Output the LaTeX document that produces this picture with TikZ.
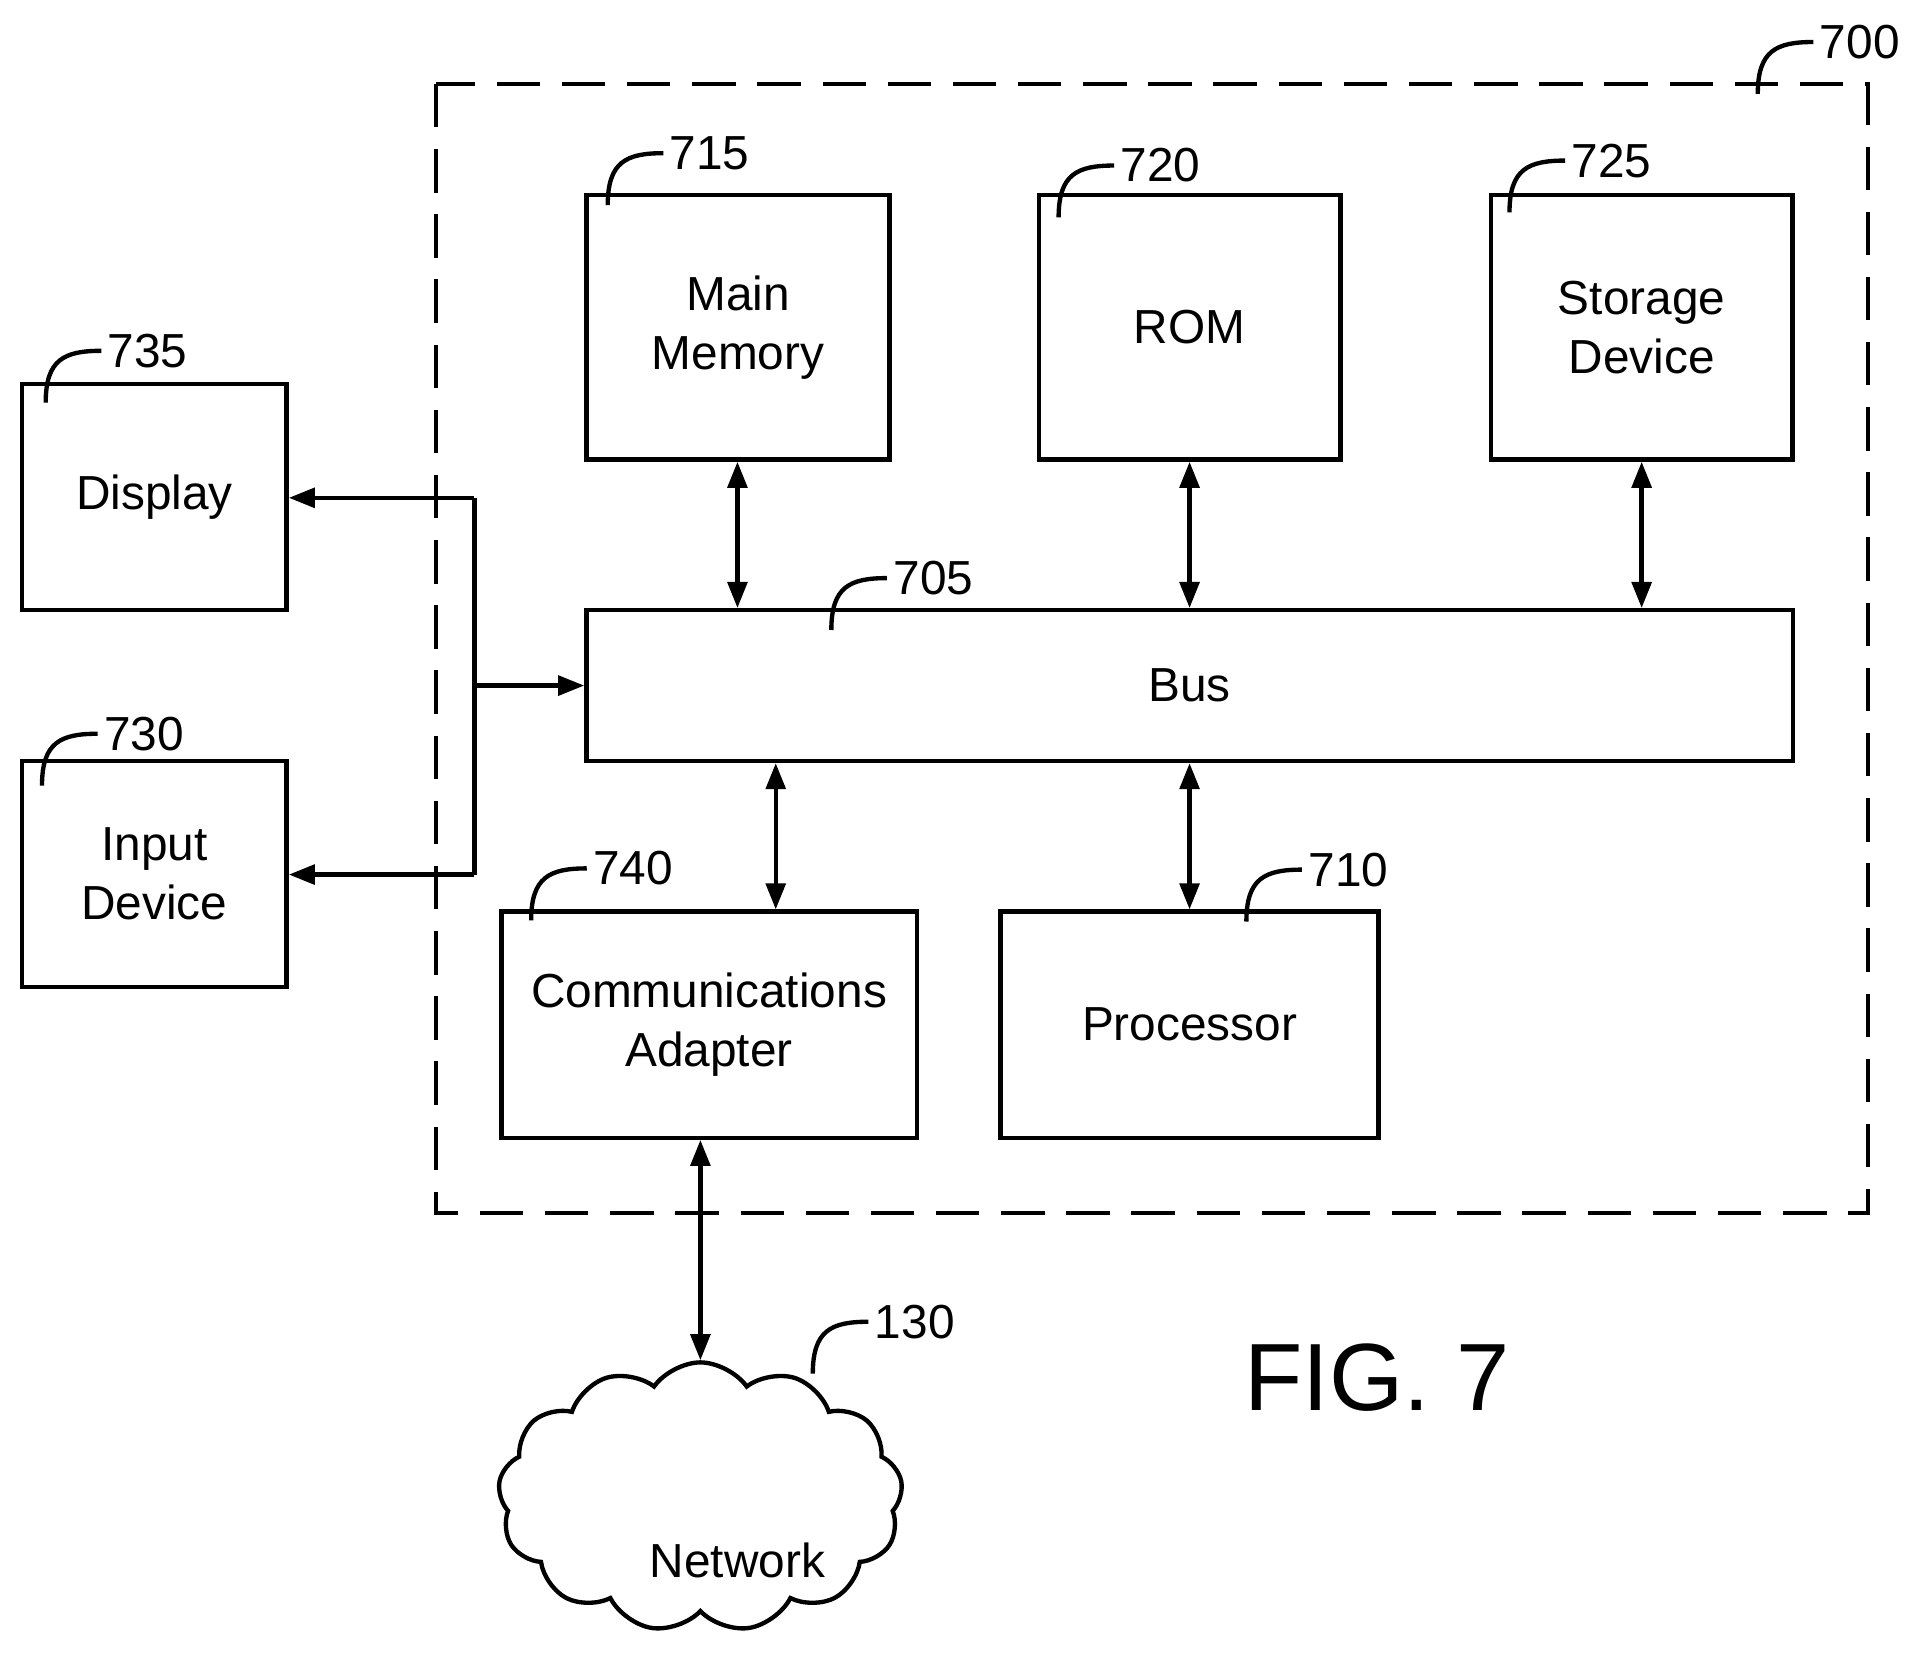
\documentclass[tikz,border=0pt]{standalone}
\usepackage{fontspec}
\setmainfont{Liberation Sans}
\usetikzlibrary{arrows.meta, positioning, calc, shapes.symbols}

\begin{document}
\begin{tikzpicture}[x=0.01cm, y=-0.01cm,
  box/.style={draw, line width=1pt, align=center, font=\fontsize{11}{13.5}\selectfont, inner sep=0pt},
  arrow/.style={{Triangle[length=6pt,width=4.5pt]}-{Triangle[length=6pt,width=4.5pt]}, line width=1pt},
  arrowone/.style={-{Triangle[length=6pt,width=4.5pt]}, line width=1pt},
  hook/.style={line width=1pt},
  num/.style={font=\fontsize{11}{13}\selectfont, anchor=west, inner sep=1pt}
]
  \useasboundingbox (0,0) rectangle (1560,1345);

  % Enclosure
  \draw[line width=1pt, dash pattern=on 10pt off 5pt] (353,68) rectangle (1512,982);

  % Boxes
  \node[box, minimum width=2.45cm, minimum height=2.14cm] (mem) at (597.5,265) {Main\\Memory};
  \node[box, minimum width=2.44cm, minimum height=2.14cm] (rom) at (963,265) {ROM};
  \node[box, minimum width=2.44cm, minimum height=2.14cm] (sto) at (1329,265) {Storage\\Device};
  \node[box, minimum width=9.76cm, minimum height=1.22cm] (bus) at (963,555) {Bus};
  \node[box, minimum width=3.36cm, minimum height=1.83cm] (com) at (574,829.5) {Communications\\Adapter};
  \node[box, minimum width=3.06cm, minimum height=1.83cm] (proc) at (963,829.5) {Processor};
  \node[box, minimum width=2.14cm, minimum height=1.83cm] (disp) at (125,402.5) {Display};
  \node[box, minimum width=2.14cm, minimum height=1.83cm] (inp) at (125,707.5) {Input\\Device};

  % Cloud
  \node[cloud, draw, line width=1pt, cloud puffs=13, cloud puff arc=110, aspect=1.7,
    inner sep=0pt, font=\fontsize{11}{13.5}\selectfont]
    (net) at (567,1212) {\rule{0pt}{1.3cm}\hspace{0.6cm}Network\hspace{0.6cm}};

  % Connectors
  \draw[arrow] (mem.south -| 597,0) -- (bus.north -| 597,0);
  \draw[arrow] (rom) -- (bus.north -| rom);
  \draw[arrow] (sto) -- (bus.north -| sto);
  \draw[arrow] (bus.south -| 628,0) -- (com.north -| 628,0);
  \draw[arrow] (bus.south -| proc) -- (proc);
  \draw[arrow] (com.south -| 567,0) -- (net.north);

  \coordinate (jt) at (384,403);
  \coordinate (jb) at (384,708);
  \draw[line width=1pt] (jt) -- (jb);
  \draw[arrowone] (jt) -- (jt -| disp.east);
  \draw[arrowone] (jb) -- (jb -| inp.east);
  \draw[arrowone] (bus.west -| jt) -- (bus.west);

  % Reference numerals
  \foreach \x/\y/\t in {1423/76/700, 492/166/715, 857/176/720, 1222/172/725,
      673/510/705, 37/326/735, 34/636/730, 430/745/740, 1009/746/710, 658/1112/130}{
    \draw[hook] (\x,\y) .. controls (\x,\y-35) and (\x+15,\y-42) .. (\x+45,\y-42)
      node[num] {\t};
  }

  \node[font=\fontsize{22}{26}\selectfont] (fig) at (1115,1115) {FIG. 7};
\end{tikzpicture}
\end{document}
